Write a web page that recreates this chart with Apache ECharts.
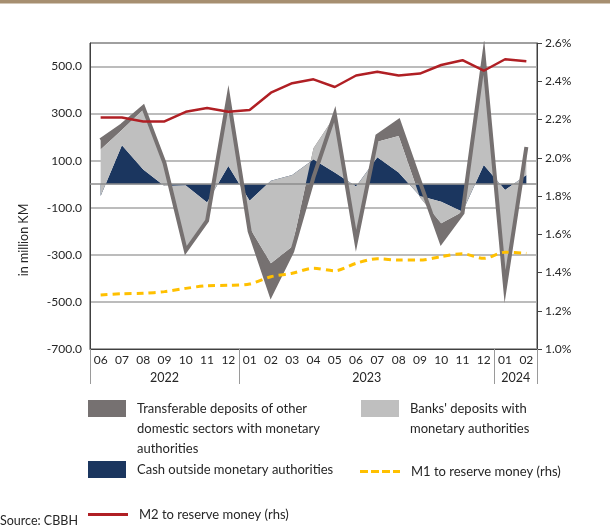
<!DOCTYPE html>
<html>
<head>
<meta charset="utf-8">
<script src="https://cdn.jsdelivr.net/npm/echarts@6/dist/echarts.min.js"></script>
<style>
  html, body { margin: 0; padding: 0; background: #fff; }
  #chart { width: 610px; height: 531px; }
</style>
</head>
<body>
<div id="chart"></div>
<script>
// months on the axis, 2022-06 .. 2024-02
var months = ['06', '07', '08', '09', '10', '11', '12',
    '01', '02', '03', '04', '05', '06', '07', '08', '09', '10', '11', '12',
    '01', '02'];
var years = ['2022', '2023', '2024'];
var yearMonthCount = [7, 12, 2];

// in million KM (stacked)
var cash = [-50, 166, 63, -8, -5, -78, 77, -70, 15, 39, 105, 50, -10, 115, 50, -50, -74, -117, 82, -25, 39];
var banks = [198, 64, 255, 93, -265, -67, 283, -115, -351, -304, 48, 240, -220, 66, 155, -5, -92, 0, 448, -400, 111];
var transfer = [39, 20, 10, 5, -12, -10, 10, -15, -132, -20, -123, 8, -10, 24, 63, 65, -79, -5, 10, -10, 8];

// rhs, %
var m1 = [1.282, 1.289, 1.291, 1.30, 1.317, 1.331, 1.333, 1.34, 1.378, 1.396, 1.422, 1.409, 1.448, 1.472, 1.465, 1.465, 1.483, 1.498, 1.474, 1.506, 1.50];
var m2 = [2.21, 2.21, 2.19, 2.19, 2.24, 2.26, 2.24, 2.25, 2.34, 2.39, 2.41, 2.37, 2.43, 2.45, 2.43, 2.44, 2.485, 2.51, 2.455, 2.515, 2.505];

var NAME_T = 'Transferable deposits of other domestic sectors with monetary authorities';
var NAME_B = "Banks' deposits with monetary authorities";
var NAME_C = 'Cash outside monetary authorities';
var NAME_M1 = 'M1 to reserve money (rhs)';
var NAME_M2 = 'M2 to reserve money (rhs)';

var legendLines = {};
legendLines[NAME_T] = ['Transferable deposits of other', 'domestic sectors with monetary', 'authorities'];
legendLines[NAME_B] = ["Banks' deposits with", 'monetary authorities'];
legendLines[NAME_C] = [NAME_C];
legendLines[NAME_M1] = [NAME_M1];
legendLines[NAME_M2] = [NAME_M2];

// total of the three components (outline of the stack)
var total = cash.map(function (v, i) { return v + banks[i] + transfer[i]; });

// half-month axis for the year row
var yearAxis = [];
var yearBounds = [];
var pos = 0;
for (var k = 0; k < years.length; k++) {
    yearBounds.push(pos * 2);
    pos += yearMonthCount[k];
}
yearBounds.push(pos * 2);
for (var j = 0; j <= pos * 2; j++) yearAxis.push('');
pos = 0;
for (k = 0; k < years.length; k++) {
    yearAxis[pos * 2 + yearMonthCount[k]] = years[k];
    pos += yearMonthCount[k];
}

var FONT = 'Lato';
var TXT = '#262626';
var LH = 20;

// legend text is centred on the icon, so blank lines are put in front
// to bring the first line level with the icon
function legendBox(name, left, iconMid, icon, w, h) {
    var lines = legendLines[name];
    var n = lines.length;
    var blockH = (2 * n - 1) * LH;
    return {
        data: [name],
        left: left,
        top: iconMid - blockH / 2,
        padding: 0,
        icon: icon,
        itemWidth: w,
        itemHeight: h,
        selectedMode: false,
        formatter: function () {
            var pad = [];
            for (var i = 1; i < n; i++) pad.push(' ');
            return pad.concat(lines).join('\n');
        },
        textStyle: {
            fontFamily: FONT, fontSize: 13, color: TXT, lineHeight: LH,
            padding: [0, 0, 0, 6]
        }
    };
}

var DASH_ICON = 'path://M0,0h8v3h-8z M11,0h8v3h-8z M22,0h8v3h-8z M33,0h7v3h-7z';

var chart = echarts.init(document.getElementById('chart'));

var option = {
    animation: false,
    textStyle: { fontFamily: FONT },
    grid: {
        left: 90, right: 73, top: 43, bottom: 182,
        show: true, borderColor: '#404040', borderWidth: 1
    },
    legend: [
        legendBox(NAME_T, 88, 408.5, 'rect', 38, 17),
        legendBox(NAME_B, 361, 408.5, 'rect', 38, 17),
        legendBox(NAME_C, 88, 469.5, 'rect', 38, 17),
        legendBox(NAME_M1, 360, 471.5, DASH_ICON, 40, 3),
        legendBox(NAME_M2, 88, 514.5, 'rect', 40, 3)
    ],
    xAxis: [{
        type: 'category',
        data: months,
        boundaryGap: true,
        axisLine: { onZero: false, lineStyle: { color: '#404040', width: 1 } },
        axisTick: { show: false },
        axisLabel: { interval: 0, margin: 5, fontSize: 12, color: TXT, fontFamily: FONT }
    }, {
        type: 'category',
        data: yearAxis,
        boundaryGap: false,
        position: 'bottom',
        axisLine: { show: false, onZero: false },
        axisTick: {
            show: true, length: 35,
            interval: function (idx) { return yearBounds.indexOf(idx) >= 0; },
            lineStyle: { color: '#9a9a9a', width: 1 }
        },
        axisLabel: {
            interval: function (idx, val) { return val !== ''; },
            margin: 22, fontSize: 12.5, color: TXT, fontFamily: FONT
        },
        splitLine: { show: false }
    }],
    yAxis: [{
        type: 'value',
        min: -700, max: 600, interval: 100,
        axisLine: { show: true, lineStyle: { color: '#404040' } },
        axisTick: { show: false },
        axisLabel: {
            margin: 8, fontSize: 12, color: TXT, fontFamily: FONT,
            formatter: function (v) { return (v + 700) % 200 === 0 ? v.toFixed(1) : ''; }
        },
        splitLine: { show: true, lineStyle: { color: ['#a6a6a6', 'transparent'], width: 1.5 } }
    }, {
        type: 'value',
        position: 'right',
        min: 1.0, max: 2.6, interval: 0.2,
        axisLine: { show: true, lineStyle: { color: '#404040' } },
        axisTick: { show: true, length: 5, lineStyle: { color: '#404040' } },
        axisLabel: {
            margin: 8, fontSize: 12, color: TXT, fontFamily: FONT,
            formatter: function (v) { return v.toFixed(1) + '%'; }
        },
        splitLine: { show: false }
    }],
    series: [{
        name: NAME_C,
        type: 'line',
        stack: 'dep',
        stackStrategy: 'all',
        data: cash,
        symbol: 'none',
        color: '#1b365f',
        lineStyle: { width: 0 },
        areaStyle: { color: '#1b365f', opacity: 1 },
        z: 3
    }, {
        name: NAME_B,
        type: 'line',
        stack: 'dep',
        stackStrategy: 'all',
        data: banks,
        symbol: 'none',
        color: '#bfbfbf',
        lineStyle: { width: 0 },
        areaStyle: { color: '#bfbfbf', opacity: 1 },
        z: 4,
        markLine: {
            silent: true, symbol: 'none', label: { show: false },
            lineStyle: { color: '#8c8c8c', width: 1.5, type: 'solid' },
            data: [{ yAxis: 0 }]
        }
    }, {
        name: NAME_T,
        type: 'line',
        stack: 'dep',
        stackStrategy: 'all',
        data: transfer,
        symbol: 'none',
        color: '#767171',
        lineStyle: { width: 0 },
        areaStyle: { color: '#767171', opacity: 1 },
        z: 2
    }, {
        name: 'total',
        type: 'line',
        data: total,
        symbol: 'none',
        color: '#767171',
        lineStyle: { width: 4, color: '#767171', join: 'miter' },
        z: 5
    }, {
        name: NAME_M1,
        type: 'line',
        yAxisIndex: 1,
        data: m1,
        smooth: 0.3,
        symbol: 'none',
        color: '#ffc000',
        lineStyle: { width: 3, type: [7, 5], color: '#ffc000' },
        z: 6
    }, {
        name: NAME_M2,
        type: 'line',
        yAxisIndex: 1,
        data: m2,
        symbol: 'none',
        color: '#b01f24',
        lineStyle: { width: 2.5, color: '#b01f24' },
        z: 7
    }],
    graphic: [{
        type: 'rect',
        left: 0, top: 0,
        shape: { width: 610, height: 3.5 },
        style: { fill: '#a68f70' }
    }, {
        type: 'text',
        x: 24, y: 240,
        rotation: Math.PI / 2,
        style: {
            text: 'in million KM', fontFamily: FONT, fontSize: 12.5, fill: TXT,
            textAlign: 'center', textVerticalAlign: 'middle'
        }
    }, {
        type: 'text',
        left: 0, top: 514,
        style: { text: 'Source: CBBH', fontFamily: FONT, fontSize: 12.5, fill: TXT }
    }]
};

chart.setOption(option);
</script>
</body>
</html>
